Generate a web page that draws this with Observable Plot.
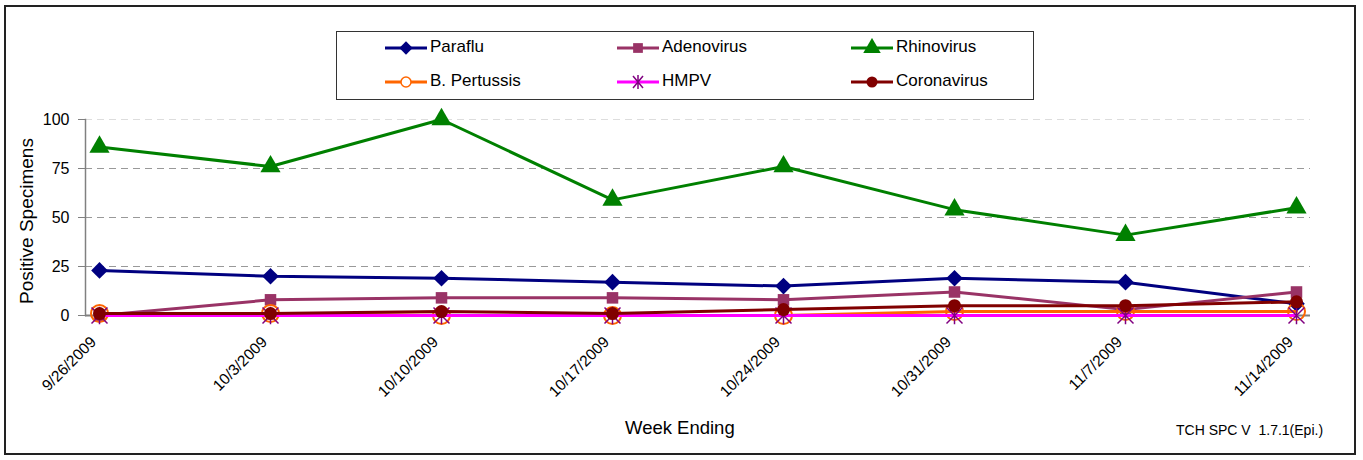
<!DOCTYPE html>
<html><head><meta charset="utf-8">
<script src="https://cdn.jsdelivr.net/npm/d3@7"></script>
<script src="https://cdn.jsdelivr.net/npm/@observablehq/plot@0.6"></script>
<style>
body{margin:0;background:#fff;font-family:"Liberation Sans",Arial,sans-serif;}
#wrap{position:relative;width:1363px;height:460px;overflow:hidden;}
#border{position:absolute;left:4px;top:5px;width:1352px;height:450px;border:2px solid #222;box-sizing:border-box;pointer-events:none;}
#legend{position:absolute;left:336px;top:31px;width:698px;height:69px;border:1.5px solid #333;box-sizing:border-box;background:#fff;}
.li{position:absolute;font-size:17px;color:#000;line-height:20px;}
.txt{position:absolute;font-size:16px;color:#000;}
</style></head>
<body><div id="wrap"><div id="chart"></div><div id="legend"></div><div id="border"></div>
<div class="txt" style="left:625px;top:417px;font-size:18.5px;">Week Ending</div>
<div class="txt" style="left:1176px;top:422px;font-size:14px;">TCH SPC V&nbsp; 1.7.1(Epi.)</div>
<div class="txt" style="left:27px;top:221px;font-size:19px;transform:translate(-50%,-50%) rotate(-90deg);white-space:nowrap;">Positive Specimens</div>
</div>
<script>
const weeks = ["9/26/2009","10/3/2009","10/10/2009","10/17/2009","10/24/2009","10/31/2009","11/7/2009","11/14/2009"];
const paraflu    = [23, 20, 19, 17, 15, 19, 17, 6];
const adenovirus = [0, 8, 9, 9, 8, 12, 3, 12];
const rhinovirus = [86, 76, 100, 59, 76, 54, 41, 55];
const pertussis  = [1, 1, 0, 0, 0, 2, 2, 2];
const hmpv       = [0, 0, 0, 0, 0, 0, 0, 0];
const coronavirus= [1, 1, 2, 1, 3, 5, 5, 7];
const yTicks = [0, 25, 50, 75, 100];

const starSymbol = {
  draw(ctx, size) {
    const r = Math.sqrt(size / Math.PI);
    ctx.moveTo(-r, -r); ctx.lineTo(r, r);
    ctx.moveTo(-r, r); ctx.lineTo(r, -r);
    ctx.moveTo(0, -r * 1.1); ctx.lineTo(0, r * 1.1);
  }
};

const series = [
  {name:"Paraflu", values:paraflu, color:"#000080", symbol:"diamond2", fill:"#000080", stroke:"none", r:7.5, lr:6},
  {name:"Adenovirus", values:adenovirus, color:"#993366", symbol:"square", fill:"#993366", stroke:"none", r:6.5, lr:5.5},
  {name:"Rhinovirus", values:rhinovirus, color:"#008000", symbol:"triangle", fill:"#008000", stroke:"none", r:7.5, lr:6.5},
  {name:"B. Pertussis", values:pertussis, color:"#FF6600", symbol:"circle", fill:"none", stroke:"#FF6600", r:8.5, lr:5},
  {name:"HMPV", values:hmpv, color:"#FF00FF", symbol:starSymbol, fill:"none", stroke:"#800080", r:8, lr:5},
  {name:"Coronavirus", values:coronavirus, color:"#800000", symbol:"circle", fill:"#800000", stroke:"none", r:6.5, lr:5.5}
];

const marks = [
  Plot.ruleY([25,50,75], {stroke:"#999", strokeDasharray:"7,5", strokeWidth:1}),
  Plot.ruleY([100], {stroke:"#ddd", strokeDasharray:"7,5", strokeWidth:1}),
  Plot.ruleY([0], {stroke:"#808080", strokeWidth:2}),
  Plot.frame({anchor:"left", stroke:"#808080", strokeWidth:1.5}),
  Plot.axisY({ticks:yTicks, tickSize:7, tickPadding:9, fontSize:16, stroke:"#808080", label:null, color:"#000"}),
  Plot.axisX({tickRotate:-45, tickSize:0, tickPadding:24, dx:-6, fontSize:15.5, label:null})
];
for (const s of series) {
  const data = weeks.map((w,i)=>({week:w, value:s.values[i]}));
  marks.push(Plot.line(data, {x:"week", y:"value", stroke:s.color, strokeWidth:3}));
  marks.push(Plot.dot(data, {x:"week", y:"value", symbol:s.symbol, r:s.r, fill:s.fill, stroke:s.stroke, strokeWidth:s.stroke==="none"?0:(s.name==="HMPV"?1.5:2)}));
}

const chart = Plot.plot({
  width:1363, height:460,
  marginTop:119, marginBottom:145, marginLeft:85, marginRight:53,
  style:{fontFamily:"Liberation Sans, Arial, sans-serif", color:"#000", background:"#fff"},
  x:{type:"point", domain:weeks, range:[97,1297], padding:0, axis:null},
  y:{domain:[0,100], axis:null},
  marks
});
document.getElementById("chart").appendChild(chart);

// legend
const leg = document.getElementById("legend");
const cols = [48, 280, 514];
const rows = [16, 50];
const symMap = {diamond2:d3.symbolDiamond2, square:d3.symbolSquare, triangle:d3.symbolTriangle, circle:d3.symbolCircle};
series.forEach((s,i)=>{
  const cx = cols[i%3], cy = rows[Math.floor(i/3)];
  const ns = "http://www.w3.org/2000/svg";
  const svg = document.createElementNS(ns,"svg");
  svg.setAttribute("width",44); svg.setAttribute("height",20);
  svg.style.position="absolute"; svg.style.left=cx+"px"; svg.style.top=(cy-10)+"px";
  const ln = document.createElementNS(ns,"line");
  ln.setAttribute("x1",0); ln.setAttribute("x2",42); ln.setAttribute("y1",10); ln.setAttribute("y2",10);
  ln.setAttribute("stroke",s.color); ln.setAttribute("stroke-width",3);
  svg.appendChild(ln);
  const g = document.createElementNS(ns,"path");
  g.setAttribute("transform","translate(21,10)");
  if (s.name==="HMPV") {
    g.setAttribute("d","M-5,-6L5,6M-5,6L5,-6M0,-7L0,7");
    g.setAttribute("stroke",s.stroke); g.setAttribute("stroke-width",1.5); g.setAttribute("fill","none");
  } else {
    const area = Math.PI*s.lr*s.lr;
    g.setAttribute("d", d3.symbol(symMap[s.symbol], area)());
    g.setAttribute("fill", s.fill==="none"?"#fff":s.fill);
    if (s.stroke!=="none"){g.setAttribute("stroke",s.stroke);g.setAttribute("stroke-width",1.5);g.setAttribute("fill","#fff");}
  }
  svg.appendChild(g);
  leg.appendChild(svg);
  const t = document.createElement("div");
  t.className="li"; t.textContent=s.name;
  t.style.left=(cx+45)+"px"; t.style.top=(cy-11)+"px";
  leg.appendChild(t);
});
</script></body></html>
